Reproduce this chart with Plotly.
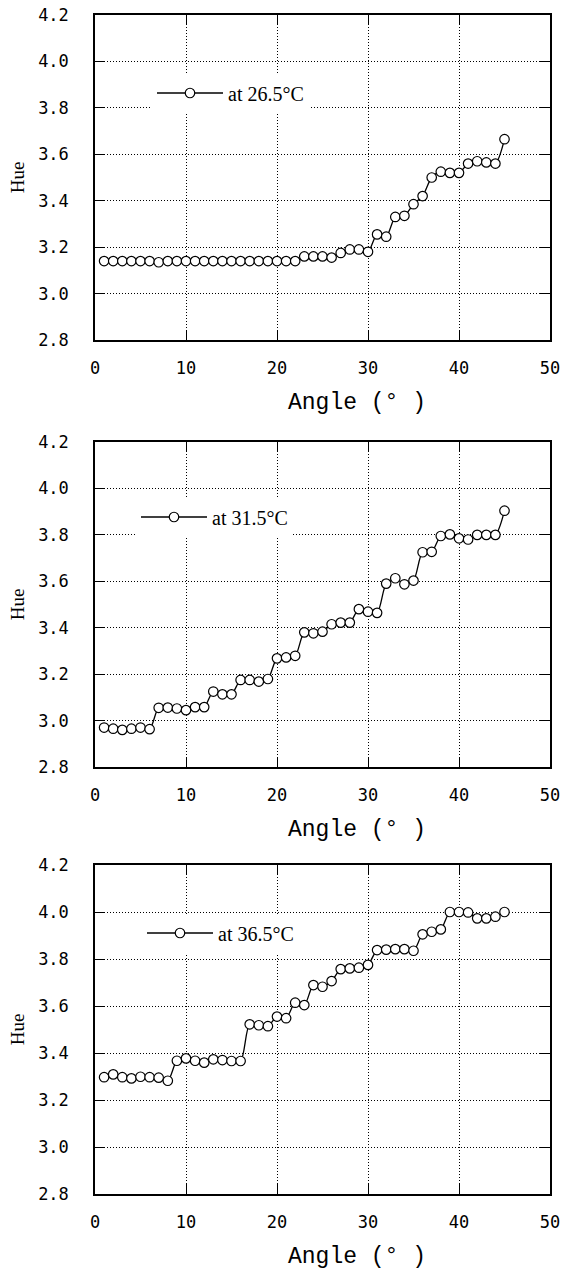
import plotly.graph_objects as go

angles = list(range(1, 46))

hue_265 = [3.14, 3.14, 3.14, 3.14, 3.14, 3.14, 3.135, 3.14, 3.14, 3.14,
           3.14, 3.14, 3.14, 3.14, 3.14, 3.14, 3.14, 3.14, 3.14, 3.14,
           3.14, 3.14, 3.16, 3.16, 3.16, 3.155, 3.175, 3.19, 3.19, 3.18,
           3.255, 3.245, 3.33, 3.335, 3.385, 3.42, 3.50, 3.525, 3.52, 3.52,
           3.56, 3.57, 3.565, 3.56, 3.665]

hue_315 = [2.97, 2.965, 2.96, 2.965, 2.97, 2.963, 3.055, 3.056, 3.052, 3.045,
           3.058, 3.058, 3.125, 3.113, 3.113, 3.175, 3.175, 3.168, 3.179, 3.268,
           3.272, 3.279, 3.38, 3.376, 3.383, 3.415, 3.422, 3.422, 3.48, 3.469,
           3.464, 3.59, 3.613, 3.587, 3.603, 3.725, 3.727, 3.795, 3.802, 3.785,
           3.78, 3.80, 3.80, 3.80, 3.904]

hue_365 = [3.297, 3.309, 3.297, 3.292, 3.299, 3.297, 3.295, 3.282, 3.367, 3.377,
           3.367, 3.359, 3.373, 3.37, 3.366, 3.366, 3.522, 3.518, 3.514, 3.555,
           3.548, 3.614, 3.604, 3.689, 3.682, 3.706, 3.757, 3.76, 3.763, 3.775,
           3.838, 3.84, 3.842, 3.842, 3.835, 3.905, 3.916, 3.926, 4.0, 4.0,
           3.998, 3.973, 3.973, 3.98, 4.0]

series_names = ["at 26.5°C", "at 31.5°C", "at 36.5°C"]
series_values = [hue_265, hue_315, hue_365]

x_ticks = [0, 10, 20, 30, 40, 50]
y_ticks = [2.8, 3.0, 3.2, 3.4, 3.6, 3.8, 4.0, 4.2]
x_title = "Angle (° )"
y_title = "Hue"

W, H = 563, 1272
ML, MR, MT, MB = 95, 13, 15, 78
plot_h = H - MT - MB
plot_w = W - ML - MR

def py(pix):  # page pixel -> paper y
    return (H - MB - pix) / plot_h

def px(pix):  # page pixel -> paper x
    return (pix - ML) / plot_w

# panel pixel extents (top, bottom)
panels = [(15, 340), (442, 767), (865, 1194)]
legend_pos = [(152, 93), (136, 517), (142, 933)]

fig = go.Figure()
layout = dict(
    width=W, height=H,
    margin=dict(l=ML, r=MR, t=MT, b=MB, autoexpand=False),
    paper_bgcolor="white", plot_bgcolor="white",
    showlegend=True,
    annotations=[],
)

for i, (name, vals) in enumerate(zip(series_names, series_values)):
    n = "" if i == 0 else str(i + 1)
    leg = "legend" + n
    fig.add_trace(go.Scatter(
        x=angles, y=vals, name=name, mode="lines+markers",
        line=dict(color="black", width=1.3, shape="spline", smoothing=0.8),
        marker=dict(symbol="circle", size=9.5, color="white",
                    line=dict(color="black", width=1.2)),
        xaxis="x" + n, yaxis="y" + n, legend=leg, showlegend=True,
        cliponaxis=False,
    ))
    top, bot = panels[i]
    axis_common = dict(
        showline=True, linecolor="black", linewidth=1.5, mirror="ticks",
        ticks="inside", ticklen=10, tickwidth=1.2, tickcolor="black",
        showgrid=True, gridcolor="black", gridwidth=1, griddash="1px,2px",
        zeroline=False, automargin=False, ticklabeloverflow="allow",
    )
    layout["xaxis" + n] = dict(
        axis_common, domain=[0, 1], range=[0, 50], tickvals=x_ticks,
        anchor="y" + n, ticklabelstandoff=12,
        tickfont=dict(family="DejaVu Sans Mono", size=17, color="black"),
    )
    layout["yaxis" + n] = dict(
        axis_common, domain=[py(bot), py(top)], range=[2.8, 4.2],
        tickvals=y_ticks, tickformat=".1f", anchor="x" + n,
        ticklabelstandoff=21,
        tickfont=dict(family="DejaVu Sans Mono", size=17, color="black"),
        title=dict(text=y_title, standoff=8,
                   font=dict(family="Liberation Serif", size=19, color="black")),
    )
    layout["annotations"].append(dict(
        text=x_title, xref="paper", yref="paper",
        x=px(357), y=py(bot + 63), xanchor="center", yanchor="middle",
        showarrow=False,
        font=dict(family="Liberation Mono", size=23, color="black"),
    ))
    lx, ly = legend_pos[i]
    layout[leg] = dict(
        x=px(lx), y=py(ly), xanchor="left", yanchor="middle",
        bgcolor="white", borderwidth=0, itemwidth=66,
        font=dict(family="Liberation Serif", size=20, color="black"),
    )

fig.update_layout(**layout)
fig.write_html("out.html",
               config={"displayModeBar": False},
               post_script="document.body.style.margin='0';"
                           "document.body.style.overflow='hidden';")
